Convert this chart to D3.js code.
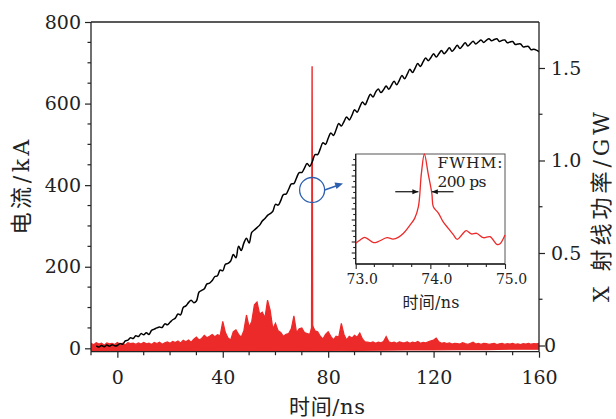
<!DOCTYPE html>
<html><head><meta charset="utf-8">
<script src="https://cdn.jsdelivr.net/npm/d3@7"></script>
<style>
html,body{margin:0;padding:0;background:#fff;}
svg{display:block;}
text{font-family:"DejaVu Serif",serif;fill:#222;}
.cjk{font-family:"DejaVu Serif","Noto Sans CJK SC",serif;}
</style></head>
<body>
<svg id="chart" width="616" height="419"></svg>
<script>
// ---- Data ----
const xTicks = [0, 40, 80, 120, 160];
const yLeftTicks = [0, 200, 400, 600, 800];
const yRightTicks = [0, 0.5, 1.0, 1.5];
const yRightLabels = ["0", "0.5", "1.0", "1.5"];
const insetTicks = [73, 74, 75];
const insetTickLabels = ["73.0", "74.0", "75.0"];

// current (kA), t = -8 .. 160 ns step 1
const currentStart = -8;
const current = [
 6,3,7,4,8,5,9,6,
 7,12,10,18,20,26,24,31,29,36,
 33,38,34,44,47,50,52,51,60,58,
 64,70,74,84,82,100,104,112,118,112,
 116,138,142,146,158,160,166,176,178,192,
 190,206,208,214,230,222,250,240,258,270,
 258,284,290,296,302,312,318,326,330,336,
 353,351,362,377,378,390,403,404,418,431,
 431,442,453,446,458,475,475,489,504,500,
 515,528,522,536,551,545,556,567,560,571,
 585,579,592,604,597,610,623,616,628,636,
 627,634,643,635,645,655,646,657,669,661,
 672,684,676,687,698,691,702,712,705,713,
 722,714,722,730,722,729,737,728,735,743,
 735,742,749,741,747,753,746,751,756,750,
 755,759,754,757,759,752,755,756,749,751,
 752,745,746,746,739,740,740,732,733,731,727
];

// X-ray power (GW) upper envelope, t = -10 .. 160 ns step 1
const powerStart = -10;
const powerHi = [
 0.012,0.004,0.015,0.008,0.013,0.002,0.014,0.009,0.012,0.005,
 0.016,0.007,0.012,0.003,0.015,0.010,0.013,0.006,0.014,0.008,
 0.017,0.009,0.013,0.005,0.016,0.011,0.018,0.007,0.014,0.019,
 0.012,0.022,0.016,0.025,0.014,0.028,0.020,0.030,0.018,0.034,
 0.045,0.030,0.038,0.055,0.042,0.050,0.060,0.048,0.058,0.052,
 0.130,0.070,0.040,0.030,0.075,0.085,0.060,0.045,0.080,0.165,
 0.100,0.130,0.220,0.235,0.170,0.180,0.150,0.245,0.190,0.090,
 0.120,0.080,0.070,0.050,0.060,0.065,0.090,0.160,0.070,0.090,
 0.095,0.070,0.065,0.060,0.110,0.080,0.075,0.050,0.035,0.060,
 0.075,0.050,0.030,0.050,0.045,0.120,0.060,0.030,0.050,0.040,
 0.055,0.045,0.068,0.035,0.020,0.018,0.015,0.020,0.012,0.018,
 0.015,0.022,0.048,0.020,0.015,0.018,0.012,0.020,0.016,0.014,
 0.020,0.012,0.018,0.015,0.022,0.012,0.017,0.014,0.020,0.025,
 0.030,0.040,0.020,0.012,0.015,0.010,0.014,0.008,0.012,0.010,
 0.008,0.015,0.010,0.006,0.012,0.018,0.008,0.011,0.007,0.012,
 0.010,0.006,0.009,0.012,0.005,0.009,0.011,0.006,0.010,0.008,
 0.012,0.006,0.009,0.005,0.010,0.008,0.012,0.007,0.010,0.009,
 0.011
];
// lower envelope (GW)
const powerLoT = [-10,0,10,20,30,40,50,60,70,80,90,100,110,120,130,140,150,160];
const powerLo = [-0.030,-0.031,-0.030,-0.031,-0.032,-0.032,-0.033,-0.033,-0.032,-0.030,-0.027,-0.025,-0.024,-0.024,-0.022,-0.022,-0.020,-0.020];

// main spike
const spikeT = [73.70, 73.85, 73.90, 73.95, 74.10];
const spikeP = [0.06, 1.20, 1.51, 1.20, 0.06];

// inset pulse (normalized), time in ns
const insetT = [73.0,73.06,73.12,73.24,73.30,73.42,73.50,73.57,73.64,73.73,73.79,73.84,73.88,73.92,73.97,74.02,74.04,74.11,74.17,74.24,74.31,74.36,74.42,74.48,74.55,74.62,74.71,74.80,74.89,74.93,75.0];
const insetV = [0.188,0.218,0.242,0.194,0.203,0.239,0.227,0.242,0.279,0.355,0.415,0.521,0.824,1.0,0.824,0.642,0.521,0.461,0.385,0.324,0.264,0.224,0.264,0.303,0.273,0.279,0.239,0.248,0.179,0.182,0.264];
const fwhmLeft = [73.53, 73.84];
const fwhmRight = [74.02, 74.31];
const fwhmLevel = 0.657;

// ---- Layout ----
const svg = d3.select("#chart");
const L = 91, R = 539, T = 22, B = 351.7;
const x = d3.scaleLinear().domain([-10, 160]).range([L, R]);
const yL = d3.scaleLinear().domain([-8.3, 800]).range([B, T]);
const yR = d3.scaleLinear().domain([-0.0335, 1.7486]).range([B, T]);
const red = "#ec2a2a";
const axisCol = "#222";

svg.append("defs").append("clipPath").attr("id","plotClip")
  .append("rect").attr("x",L).attr("y",T).attr("width",R-L).attr("height",B-T);

const plot = svg.append("g").attr("clip-path","url(#plotClip)");

// red band: polygon upper then lower reversed
const hiPts = powerHi.map((v,i)=>[powerStart+i, v]);
const loPts = powerLo.map((v,i)=>[powerLoT[i], v]).reverse();
const poly = hiPts.concat(loPts);
plot.append("path")
  .attr("d", d3.line().x(d=>x(d[0])).y(d=>yR(d[1]))(poly) + "Z")
  .attr("fill", red).attr("stroke", red).attr("stroke-width", 1.2).attr("stroke-linejoin","miter");

// spike
plot.append("path")
  .attr("d", d3.line().x((d,i)=>x(spikeT[i])).y(d=>yR(d))(spikeP))
  .attr("fill","none").attr("stroke",red).attr("stroke-width",1.4);

// current
plot.append("path")
  .attr("d", d3.line().x((d,i)=>x(currentStart+i)).y(d=>yL(d)).curve(d3.curveCatmullRom)(current))
  .attr("fill","none").attr("stroke","#000").attr("stroke-width",1.5).attr("stroke-linejoin","round");

// ---- Axes ----
const frame = svg.append("g");
frame.append("line").attr("x1",L).attr("x2",R).attr("y1",T).attr("y2",T).attr("stroke",axisCol).attr("stroke-width",1.3);

const xAxis = d3.axisBottom(x).tickValues(xTicks).tickSize(6).tickPadding(13).tickFormat(d3.format("d"));
const gx = svg.append("g").attr("transform",`translate(0,${B})`).call(xAxis);
gx.select(".domain").attr("d",`M${L},0H${R}`);
const xMinor = d3.range(-10, 161, 10).filter(v=>xTicks.indexOf(v)<0);
gx.selectAll(".minor").data(xMinor).enter().append("line").attr("class","minor")
  .attr("x1",d=>x(d)).attr("x2",d=>x(d)).attr("y1",0).attr("y2",3.5);

const yAxisL = d3.axisLeft(yL).tickValues(yLeftTicks).tickSize(6).tickPadding(4);
const gyl = svg.append("g").attr("transform",`translate(${L},0)`).call(yAxisL);
gyl.select(".domain").attr("d",`M0,${T}V${B}`);
const yMinorL = d3.range(50, 800, 50).filter(v=>yLeftTicks.indexOf(v)<0);
gyl.selectAll(".minor").data(yMinorL).enter().append("line").attr("class","minor")
  .attr("x1",0).attr("x2",-3.5).attr("y1",d=>yL(d)).attr("y2",d=>yL(d));

const yAxisR = d3.axisRight(yR).tickValues(yRightTicks).tickSize(6).tickPadding(6)
  .tickFormat((d,i)=>yRightLabels[i]);
const gyr = svg.append("g").attr("transform",`translate(${R},0)`).call(yAxisR);
gyr.select(".domain").attr("d",`M0,${T}V${B}`);
const yMinorR = [0.25, 0.75, 1.25];
gyr.selectAll(".minor").data(yMinorR).enter().append("line").attr("class","minor")
  .attr("x1",0).attr("x2",3.5).attr("y1",d=>yR(d)).attr("y2",d=>yR(d));
gyr.selectAll(".tick text").filter(d=>d===0).attr("x",5);

[gx,gyl,gyr].forEach(g=>{
  g.selectAll(".domain").attr("stroke",axisCol).attr("stroke-width",1.3);
  g.selectAll(".tick line, .minor").attr("stroke",axisCol).attr("stroke-width",1.2);
  g.selectAll("text").attr("font-family","DejaVu Serif, serif").attr("font-size",19).attr("fill","#222");
});

// axis titles
svg.append("text").attr("class","cjk").attr("x",327).attr("y",414).attr("text-anchor","middle")
  .attr("font-size",21).attr("textLength",76).attr("lengthAdjust","spacing").text("时间/ns");
svg.append("text").attr("class","cjk").attr("transform","translate(29,187) rotate(-90)").attr("text-anchor","middle")
  .attr("font-size",22).attr("textLength",95).attr("lengthAdjust","spacing").text("电流/kA");
svg.append("text").attr("class","cjk").attr("transform","translate(609,207) rotate(-90)").attr("text-anchor","middle")
  .attr("font-size",22).attr("textLength",190).attr("lengthAdjust","spacing").text("X 射线功率/GW");

// ---- Blue marker ----
const blue = "#2d5fb0";
svg.append("circle").attr("cx",x(73.9)).attr("cy",190).attr("r",12.5)
  .attr("fill","none").attr("stroke",blue).attr("stroke-width",1.3);
svg.append("line").attr("x1",x(73.9)+12.5).attr("y1",190).attr("x2",336).attr("y2",186)
  .attr("stroke",blue).attr("stroke-width",1.4);
svg.append("path").attr("d","M343,183.5 L334.5,182.5 L336.5,189 Z").attr("fill",blue);

// ---- Inset ----
const iL = 355.7, iR = 505, iT = 154, iB = 264;
const xi = d3.scaleLinear().domain([73, 75]).range([iL, iR]);
const yi = d3.scaleLinear().domain([0, 1]).range([iB, iT]);
const inset = svg.append("g");
inset.append("rect").attr("x",iL).attr("y",iT).attr("width",iR-iL).attr("height",iB-iT)
  .attr("fill","#fff").attr("stroke","#555").attr("stroke-width",1);
inset.append("line").attr("x1",iL).attr("x2",iL).attr("y1",iT).attr("y2",iB).attr("stroke",axisCol).attr("stroke-width",1.3);
inset.append("line").attr("x1",iL).attr("x2",iR).attr("y1",iB).attr("y2",iB).attr("stroke",axisCol).attr("stroke-width",1.3);

inset.append("path")
  .attr("d", d3.line().x((d,i)=>xi(insetT[i])).y(d=>yi(d)).curve(d3.curveCatmullRom)(insetV))
  .attr("fill","none").attr("stroke",red).attr("stroke-width",1.3);

const xiAxis = d3.axisBottom(xi).tickValues(insetTicks).tickSize(5).tickPadding(5)
  .tickFormat((d,i)=>insetTickLabels[i]);
const gxi = inset.append("g").attr("transform",`translate(0,${iB})`).call(xiAxis);
gxi.select(".domain").remove();
gxi.selectAll(".minor").data([73.25,73.5,73.75,74.25,74.5,74.75]).enter().append("line").attr("class","minor")
  .attr("x1",d=>xi(d)).attr("x2",d=>xi(d)).attr("y1",0).attr("y2",3);
gxi.selectAll(".tick line, .minor").attr("stroke",axisCol).attr("stroke-width",1.1);
gxi.selectAll("text").attr("font-family","DejaVu Serif, serif").attr("font-size",14).attr("fill","#222").attr("dx",6);

const yiTicks = d3.range(0.05, 1.0, 0.05);
inset.selectAll(".yit").data(yiTicks).enter().append("line").attr("class","yit")
  .attr("x1",iL).attr("x2",(d,i)=>iL-(i%2===1?4:2.5)).attr("y1",d=>yi(d)).attr("y2",d=>yi(d))
  .attr("stroke",axisCol).attr("stroke-width",1.1);

inset.append("text").attr("class","cjk").attr("x",431).attr("y",308).attr("text-anchor","middle")
  .attr("font-size",16).attr("textLength",57).attr("lengthAdjust","spacing").text("时间/ns");

// FWHM arrows
const arrowCol = "#111";
function hArrow(x1, x2, dir){
  inset.append("line").attr("x1",xi(x1)).attr("x2",xi(x2)).attr("y1",yi(fwhmLevel)).attr("y2",yi(fwhmLevel))
    .attr("stroke",arrowCol).attr("stroke-width",1.2);
  const tip = dir>0 ? xi(x2) : xi(x1);
  const yy = yi(fwhmLevel);
  inset.append("path").attr("d",`M${tip},${yy} L${tip-dir*6},${yy-2.6} L${tip-dir*6},${yy+2.6} Z`).attr("fill",arrowCol);
}
hArrow(fwhmLeft[0], fwhmLeft[1], 1);
hArrow(fwhmRight[0], fwhmRight[1], -1);

inset.append("text").attr("x",437.5).attr("y",167.5).attr("font-size",15.5)
  .attr("textLength",65).attr("lengthAdjust","spacing").text("FWHM:");
inset.append("text").attr("x",437.5).attr("y",187).attr("font-size",15.5)
  .attr("textLength",49).attr("lengthAdjust","spacing").text("200 ps");
</script>
</body></html>
